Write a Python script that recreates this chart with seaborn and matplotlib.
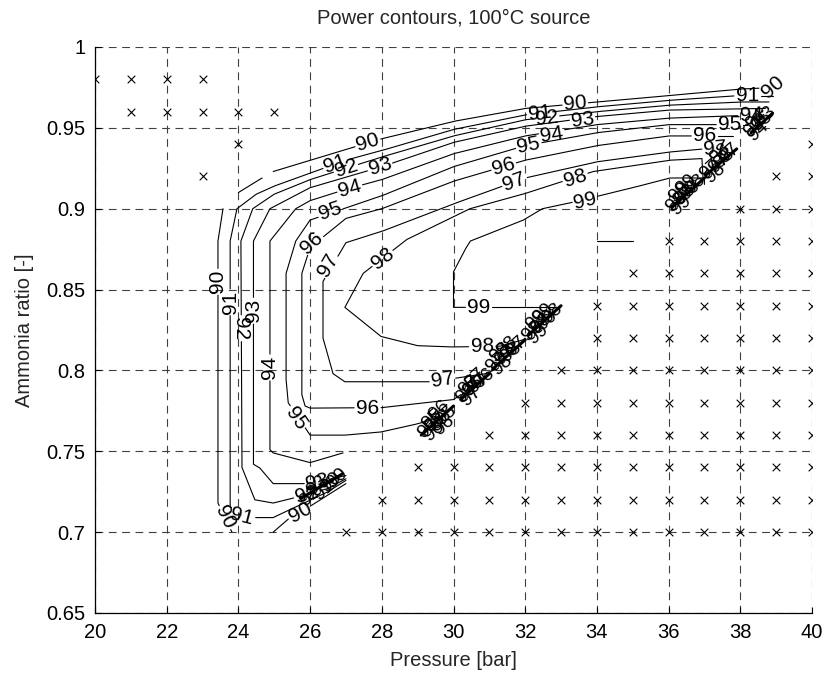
import numpy as np
import pandas as pd
import matplotlib
matplotlib.use("Agg")
import matplotlib.pyplot as plt
import seaborn as sns

sns.set_theme(style="white")
plt.rcParams['font.family'] = ['Liberation Sans', 'DejaVu Sans']

TITLE = "Power contours, 100°C source"
XLABEL = "Pressure [bar]"
YLABEL = "Ammonia ratio [-]"
XTICKS = [20, 22, 24, 26, 28, 30, 32, 34, 36, 38, 40]
YTICKS = [0.65, 0.7, 0.75, 0.8, 0.85, 0.9, 0.95, 1.0]
YTICKLABELS = ["0.65", "0.7", "0.75", "0.8", "0.85", "0.9", "0.95", "1"]

# infeasible operating points (x markers): ratio row and the pressures in it
INF_R = [0.98, 0.96, 0.94, 0.92,
         0.94, 0.92, 0.90, 0.88, 0.86, 0.84, 0.82, 0.80, 0.78, 0.76, 0.74, 0.72, 0.70]
INF_P = [[20, 21, 22, 23], [21, 22, 23, 24, 25], [24], [23],
         [40], [39, 40], [38, 39, 40], [36, 37, 38, 39, 40],
         [35, 36, 37, 38, 39, 40], [34, 35, 36, 37, 38, 39, 40],
         [34, 35, 36, 37, 38, 39, 40], [33, 34, 35, 36, 37, 38, 39, 40],
         [32, 33, 34, 35, 36, 37, 38, 39, 40], [31, 32, 33, 34, 35, 36, 37, 38, 39, 40],
         [29, 30, 31, 32, 33, 34, 35, 36, 37, 38, 39, 40],
         [28, 29, 30, 31, 32, 33, 34, 35, 36, 37, 38, 39, 40],
         [27, 28, 29, 30, 31, 32, 33, 34, 35, 36, 37, 38, 39, 40]]

# contour lines: level -> polylines of (pressure, ratio)
C90 = [[(23.82, 0.700), (23.43, 0.718), (23.43, 0.880), (23.57, 0.900)],
       [(24.0, 0.910), (24.66, 0.919)],
       [(24.97, 0.923), (27.95, 0.943), (29.07, 0.949), (30.0, 0.954), (32.0, 0.962),
        (34.0, 0.966), (36.04, 0.970), (38.0, 0.974), (39.0, 0.975)],
       [(24.97, 0.700), (25.44, 0.709), (26.0, 0.716), (27.0, 0.730)]]
C91 = [[(27.0, 0.732), (26.5, 0.725), (25.44, 0.714), (24.97, 0.709), (24.38, 0.709),
        (24.0, 0.710), (23.77, 0.716), (23.77, 0.880), (23.96, 0.900), (24.5, 0.909),
        (25.0, 0.914), (26.0, 0.922), (27.0, 0.930), (28.0, 0.936), (30.0, 0.949),
        (32.0, 0.958), (34.0, 0.963), (36.0, 0.967), (38.0, 0.970), (38.9, 0.970)]]
C92 = [[(27.0, 0.733), (26.5, 0.727), (25.52, 0.721), (24.97, 0.718), (24.46, 0.720),
        (24.1, 0.740), (24.07, 0.880), (24.4, 0.900), (25.0, 0.909), (26.0, 0.918),
        (27.0, 0.925), (28.0, 0.932), (30.0, 0.945), (32.0, 0.955), (34.0, 0.960),
        (36.0, 0.964), (38.0, 0.966), (38.8, 0.966)]]
C93 = [[(27.0, 0.735), (26.0, 0.730), (24.97, 0.730), (24.6, 0.7396), (24.42, 0.742),
        (24.42, 0.880), (24.88, 0.900), (26.0, 0.913), (28.0, 0.926), (30.0, 0.941),
        (32.0, 0.951), (34.0, 0.957), (36.0, 0.961), (38.7, 0.962)]]
C94 = [[(26.92, 0.749), (26.0, 0.743), (24.97, 0.749), (24.88, 0.751), (24.88, 0.880),
        (25.6, 0.900), (26.0, 0.905), (27.0, 0.912), (28.0, 0.918), (30.0, 0.934),
        (32.0, 0.945), (34.0, 0.952), (36.0, 0.956), (38.5, 0.958)]]
C95 = [[(29.5, 0.770), (29.0, 0.767), (28.0, 0.762), (27.0, 0.760), (26.0, 0.760),
        (25.91, 0.763), (25.39, 0.780), (25.33, 0.794), (25.33, 0.860), (25.6, 0.880),
        (26.0, 0.893), (28.0, 0.908), (30.0, 0.926), (32.0, 0.939), (34.0, 0.947),
        (36.0, 0.952), (38.2, 0.952)]]
C96 = [[(30.2, 0.785), (30.0, 0.782), (28.0, 0.777), (26.0, 0.7767), (25.86, 0.778),
        (25.77, 0.785), (25.77, 0.860), (26.0, 0.876), (27.0, 0.894), (28.0, 0.900),
        (30.0, 0.917), (32.0, 0.930), (34.0, 0.939), (36.0, 0.945), (37.8, 0.945)]]
C97 = [[(31.1, 0.800), (30.9, 0.798), (30.0, 0.795), (29.4, 0.793), (26.97, 0.793),
        (26.64, 0.798), (26.36, 0.820), (26.36, 0.855), (27.0, 0.879), (28.0, 0.886),
        (30.0, 0.903), (32.0, 0.919), (34.0, 0.929), (36.0, 0.935), (37.5, 0.938)]]
C98 = [[(32.0, 0.820), (31.95, 0.819), (31.3, 0.815), (30.0, 0.8145), (29.0, 0.8153),
        (27.98, 0.821), (26.97, 0.839), (27.48, 0.860), (28.7, 0.881), (29.07, 0.885),
        (30.46, 0.900), (31.94, 0.909), (33.9, 0.923), (36.04, 0.930), (36.93, 0.931),
        (36.96, 0.919)]]
C99 = [[(32.97, 0.839), (30.0, 0.839), (30.0, 0.861), (30.33, 0.875), (30.47, 0.880),
        (31.95, 0.893), (32.48, 0.900), (33.33, 0.904), (35.0, 0.913), (36.04, 0.919),
        (37.0, 0.919), (37.0, 0.915)],
       [(34.0, 0.880), (35.0, 0.880)]]

# inline label positions per level
L90 = [(23.62, 0.709), (23.43, 0.855), (27.6, 0.941), (33.4, 0.965), (25.72, 0.712),
       (38.9, 0.975)]
L91 = [(24.1, 0.7095), (23.77, 0.842), (26.7, 0.928), (32.4, 0.959), (38.2, 0.970)]
L92 = [(25.9, 0.7235), (24.07, 0.826), (27.0, 0.925), (32.6, 0.956)]
L93 = [(26.2, 0.731), (24.42, 0.837), (27.95, 0.926), (33.6, 0.955)]
L94 = [(24.88, 0.802), (27.1, 0.9126), (32.75, 0.946), (38.3, 0.958)]
L95 = [(25.6, 0.7705), (26.55, 0.8985), (32.1, 0.939), (37.7, 0.952)]
L96 = [(27.6, 0.7767), (26.05, 0.879), (31.4, 0.926), (37.0, 0.945)]
L97 = [(29.7, 0.794), (26.5, 0.865), (31.7, 0.9165), (37.3, 0.937)]
L98 = [(30.8, 0.8147), (28.03, 0.869), (33.4, 0.919)]
L99 = [(30.7, 0.839), (33.67, 0.905)]

LEVELS = [90, 91, 92, 93, 94, 95, 96, 97, 98, 99]
LINES = [C90, C91, C92, C93, C94, C95, C96, C97, C98, C99]
LABELS = [L90, L91, L92, L93, L94, L95, L96, L97, L98, L99]

# boundary fragments (tiny contour pieces along the feasibility edge)
EDGE = [[(25.75, 0.721), (26.9, 0.736)],
        [(29.1, 0.760), (30.0, 0.778)], [(30.2, 0.782), (31.0, 0.798)],
        [(31.1, 0.801), (32.0, 0.819)], [(32.1, 0.822), (33.0, 0.840)],
        [(36.1, 0.901), (37.0, 0.919)], [(37.05, 0.921), (37.9, 0.937)],
        [(38.3, 0.947), (38.9, 0.959)]]
# tiny labels on those fragments
CL_TXT = ["95", "96", "95", "96", "95", "96", "95", "96",
          "96", "97", "96", "97", "96", "97", "97",
          "97", "98", "97", "98", "97", "98", "98",
          "98", "99", "98", "99", "98", "99", "99",
          "98", "99", "98", "99", "98", "99", "99",
          "97", "98", "97", "98", "97", "98",
          "93", "94", "95", "93", "94",
          "93", "90", "92", "91", "90"]
CL_P = [29.3, 29.45, 29.5, 29.65, 29.8, 29.6, 29.4, 29.75,
        30.35, 30.5, 30.55, 30.7, 30.85, 30.6, 30.45,
        31.2, 31.35, 31.45, 31.6, 31.75, 31.5, 31.3,
        32.2, 32.35, 32.45, 32.6, 32.75, 32.5, 32.3,
        36.2, 36.35, 36.45, 36.6, 36.75, 36.5, 36.3,
        37.15, 37.3, 37.4, 37.55, 37.7, 37.45,
        38.4, 38.5, 38.6, 38.7, 38.45,
        26.2, 26.6, 26.0, 26.4, 26.75]
CL_R = [0.764, 0.762, 0.768, 0.770, 0.772, 0.775, 0.770, 0.766,
        0.786, 0.784, 0.790, 0.792, 0.795, 0.795, 0.791,
        0.805, 0.803, 0.809, 0.811, 0.815, 0.815, 0.811,
        0.824, 0.822, 0.829, 0.831, 0.835, 0.835, 0.831,
        0.904, 0.902, 0.909, 0.911, 0.915, 0.915, 0.910,
        0.924, 0.922, 0.928, 0.931, 0.934, 0.934,
        0.950, 0.948, 0.954, 0.957, 0.955,
        0.729, 0.731, 0.722, 0.726, 0.733]

W, H, DPI = 824, 673, 100
fig = plt.figure(figsize=(W / DPI, H / DPI), dpi=DPI)
ax = fig.add_axes([95 / W, 1 - 613 / H, 717 / W, 566 / H])
ax.set_xlim(20, 40)
ax.set_ylim(0.65, 1.0)
FS = 14.5
LBL_FS = 15
GAP = 13

# grid + axes style (MATLAB-like, box off)
ax.set_xticks(XTICKS)
ax.set_yticks(YTICKS)
ax.set_yticklabels(YTICKLABELS)
ax.grid(True, color='0.25', linestyle=(0, (7, 5)), linewidth=0.8)
for s in ['top', 'right']:
    ax.spines[s].set_visible(False)
for s in ['left', 'bottom']:
    ax.spines[s].set_color('black')
    ax.spines[s].set_linewidth(0.9)
ax.tick_params(direction='in', length=4, width=0.8, colors='black',
               labelsize=FS, pad=7, left=True, bottom=True)
ax.set_title(TITLE, fontsize=FS, pad=17)

# x markers
mk = pd.DataFrame([(p, r) for r, ps in zip(INF_R, INF_P) for p in ps], columns=['P', 'r'])
sns.scatterplot(data=mk, x='P', y='r', marker='x', color='black', s=30,
                linewidth=0.8, ax=ax, zorder=3, legend=False)

trans = ax.transData
inv = trans.inverted()
rows = []
uid = 0
for lev, segs, labs in zip(LEVELS, LINES, LABELS):
    labd = [trans.transform(p) for p in labs]
    dense_all = []
    for seg in segs:
        disp = trans.transform(np.array(seg, float))
        dense = [disp[0]]
        for a, b in zip(disp[:-1], disp[1:]):
            n = max(2, int(np.hypot(*(b - a)) / 0.7))
            t = np.linspace(0, 1, n)[1:]
            dense.extend(a + (b - a) * t[:, None])
        dense = np.array(dense)
        dense_all.append(dense)
        keep = np.ones(len(dense), bool)
        for c in labd:
            keep &= np.hypot(*(dense - c).T) > GAP
        data = inv.transform(dense)
        cur = None
        for k in range(len(dense)):
            if keep[k]:
                if cur is None:
                    uid += 1
                    cur = uid
                rows.append((cur, data[k, 0], data[k, 1]))
            else:
                cur = None
    alld = np.vstack(dense_all)
    for c, (p, r) in zip(labd, labs):
        i = int(np.argmin(np.hypot(*(alld - c).T)))
        a = alld[max(i - 8, 0)]
        b = alld[min(i + 8, len(alld) - 1)]
        ang = np.degrees(np.arctan2(b[1] - a[1], b[0] - a[0]))
        if ang > 90:
            ang -= 180
        if ang <= -90:
            ang += 180
        ax.text(p, r, str(lev), fontsize=LBL_FS, rotation=ang, rotation_mode='anchor',
                ha='center', va='center', color='black', zorder=4)

df = pd.DataFrame(rows, columns=['seg', 'P', 'r'])
sns.lineplot(data=df, x='P', y='r', units='seg', estimator=None, sort=False,
             color='black', linewidth=0.8, ax=ax, zorder=2)

erows = [(k, p, r) for k, seg in enumerate(EDGE) for p, r in seg]
edf = pd.DataFrame(erows, columns=['seg', 'P', 'r'])
sns.lineplot(data=edf, x='P', y='r', units='seg', estimator=None, sort=False,
             color='black', linewidth=2.2, ax=ax, zorder=2)

for t, p, r in zip(CL_TXT, CL_P, CL_R):
    ax.text(p, r, t, fontsize=LBL_FS - 1, rotation=42, rotation_mode='anchor',
            ha='center', va='center', color='black', zorder=4)

ax.set_xlabel(XLABEL, fontsize=FS, labelpad=7)
ax.set_ylabel(YLABEL, fontsize=FS, labelpad=9)
fig.savefig("out.png", dpi=DPI, facecolor='white')
